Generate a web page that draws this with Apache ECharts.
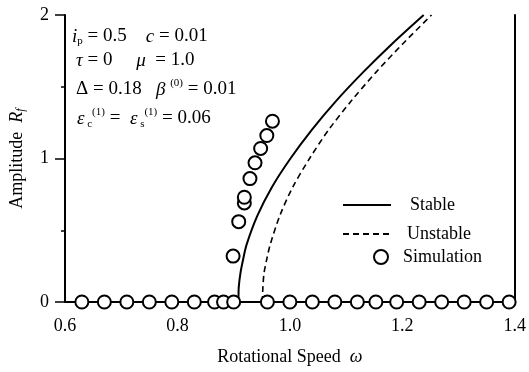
<!DOCTYPE html>
<html>
<head>
<meta charset="utf-8">
<script src="https://cdn.jsdelivr.net/npm/echarts@6/dist/echarts.min.js"></script>
<style>
html, body { margin: 0; padding: 0; background: #fff; }
#chart { width: 529px; height: 372px; }
</style>
</head>
<body>
<div id="chart"></div>
<script>
// 稳定解 (上支)
var stableOmega = [0.908, 0.909, 0.912, 0.917, 0.923, 0.942, 0.968, 1.001, 1.039, 1.082, 1.130, 1.182, 1.238];
var stableAmp = [0, 0.1, 0.2, 0.3, 0.4, 0.6, 0.8, 1.0, 1.2, 1.4, 1.6, 1.8, 2.0];
// 不稳定解 (上支)
var unstableOmega = [0.951, 0.952, 0.954, 0.959, 0.965, 0.982, 1.005, 1.035, 1.069, 1.109, 1.153, 1.201, 1.252];
var unstableAmp = [0, 0.1, 0.2, 0.3, 0.4, 0.6, 0.8, 1.0, 1.2, 1.4, 1.6, 1.8, 2.0];
// 零解: 稳定区间 / 不稳定区间
var zeroStableLeft = [0.6, 0.908];
var zeroStableRight = [0.951, 1.4];
var zeroUnstable = [0.908, 0.951];
// 数值模拟
var simOmega = [0.63, 0.67, 0.71, 0.75, 0.79, 0.83, 0.866, 0.882, 0.90, 0.96, 1.00, 1.04, 1.08, 1.12, 1.153, 1.19, 1.23, 1.27, 1.31, 1.35, 1.39,
	0.899, 0.909, 0.919, 0.919, 0.929, 0.938, 0.948, 0.959, 0.969];
var simAmp = [0, 0, 0, 0, 0, 0, 0, 0, 0, 0, 0, 0, 0, 0, 0, 0, 0, 0, 0, 0, 0,
	0.32, 0.56, 0.69, 0.73, 0.86, 0.97, 1.07, 1.16, 1.26];
var xTicks = [0.6, 1.4, 0.2];
var yTicks = [0, 2, 1];

function zip(xs, ys) {
	var out = [];
	for (var i = 0; i < xs.length; i++) out.push([xs[i], ys[i]]);
	return out;
}

var serif = 'Liberation Serif';
var stableData = zip(zeroStableLeft, [0, 0]).concat(zip(stableOmega, stableAmp));
var stableData2 = zip(zeroStableRight, [0, 0]);
var noDot = { color: 'rgba(0,0,0,0)', borderWidth: 0 };

var chart = echarts.init(document.getElementById('chart'));
var option = {
	animation: false,
	textStyle: { fontFamily: serif, color: '#000' },
	grid: { left: 62, right: 12, top: 15, bottom: 70 },
	xAxis: [{
		type: 'value',
		min: xTicks[0], max: xTicks[1], interval: xTicks[2],
		axisLine: { show: false },
		axisTick: { show: false },
		splitLine: { show: false },
		axisLabel: { fontSize: 18, color: '#000', fontFamily: serif, margin: 15, formatter: function(v) { return v.toFixed(1); } },
		name: 'Rotational Speed  {w|ω}',
		nameLocation: 'middle',
		nameGap: 46,
		nameTextStyle: { fontSize: 18, color: '#000', fontFamily: serif, rich: { w: { fontSize: 18, fontStyle: 'italic', fontFamily: serif } } }
	}, {
		type: 'value', position: 'top',
		min: xTicks[0], max: xTicks[1],
		axisLine: { show: true, lineStyle: { color: '#000', width: 2 } },
		axisTick: { show: false }, axisLabel: { show: false }, splitLine: { show: false }
	}],
	yAxis: [{
		type: 'value',
		min: yTicks[0], max: yTicks[1], interval: yTicks[2],
		axisLine: { show: true, lineStyle: { color: '#000', width: 2 } },
		axisTick: { show: true, length: 10, lineStyle: { color: '#000', width: 1.5 } },
		minorTick: { show: true, splitNumber: 2, length: 4, lineStyle: { color: '#000', width: 1.5 } },
		splitLine: { show: false },
		axisLabel: { fontSize: 18, color: '#000', fontFamily: serif, margin: 16 },
		name: 'Amplitude  {r|R}{f|f}',
		nameLocation: 'middle',
		nameGap: 38,
		nameTextStyle: { fontSize: 18, color: '#000', fontFamily: serif, rich: {
			r: { fontSize: 18, fontStyle: 'italic', fontFamily: serif },
			f: { fontSize: 12, fontStyle: 'italic', fontFamily: serif, verticalAlign: 'bottom', padding: [8, 0, 0, 0] }
		} }
	}, {
		type: 'value', position: 'right',
		min: yTicks[0], max: yTicks[1],
		axisLine: { show: true, lineStyle: { color: '#000', width: 2 } },
		axisTick: { show: false }, axisLabel: { show: false }, splitLine: { show: false }
	}],
	legend: [{
		data: ['Stable'], left: 342, top: 196, padding: 0, itemWidth: 48, itemHeight: 14, itemStyle: noDot,
		textStyle: { fontSize: 18, fontFamily: serif, color: '#000', padding: [0, 0, 0, 14] }
	}, {
		data: ['Unstable'], left: 342, top: 225, padding: 0, itemWidth: 48, itemHeight: 14, itemStyle: noDot,
		textStyle: { fontSize: 18, fontFamily: serif, color: '#000', padding: [0, 0, 0, 11] }
	}, {
		data: ['Simulation'], left: 373, top: 248, padding: 0, itemWidth: 14, itemHeight: 14,
		textStyle: { fontSize: 18, fontFamily: serif, color: '#000', padding: [0, 0, 0, 10] }
	}],
	series: [{
		name: 'Stable', type: 'line', data: stableData, symbol: 'none', smooth: 0.3, clip: false,
		itemStyle: { color: '#000' }, lineStyle: { color: '#000', width: 2 }
	}, {
		name: 'Stable', type: 'line', data: stableData2, symbol: 'none', clip: false,
		itemStyle: { color: '#000' }, lineStyle: { color: '#000', width: 2 }
	}, {
		name: 'Unstable', type: 'line', data: zip(unstableOmega, unstableAmp), symbol: 'none', smooth: 0.3, clip: false,
		itemStyle: { color: '#000' }, lineStyle: { color: '#000', width: 1.6, type: [6, 4] }
	}, {
		name: 'Unstable', type: 'line', data: zip(zeroUnstable, [0, 0]), symbol: 'none', clip: false,
		itemStyle: { color: '#000' }, lineStyle: { color: '#000', width: 2, type: [3, 5] }
	}, {
		name: 'Simulation', type: 'scatter', data: zip(simOmega, simAmp), symbol: 'circle', symbolSize: 13, clip: false, z: 5,
		itemStyle: { color: '#fff', borderColor: '#000', borderWidth: 2, opacity: 1 }
	}],
	graphic: [{
		type: 'text', left: 72, top: 27,
		style: { text: '{i|i}{sb|p} = 0.5    {i|c} = 0.01', fontSize: 19, fontFamily: serif, fill: '#000',
			rich: { i: { fontSize: 19, fontStyle: 'italic', fontFamily: serif }, sb: { fontSize: 11, fontFamily: serif, verticalAlign: 'bottom', padding: [10, 0, 0, 0] } } }
	}, {
		type: 'text', left: 76, top: 51,
		style: { text: '{i|τ} = 0     {i|μ}  = 1.0', fontSize: 19, fontFamily: serif, fill: '#000',
			rich: { i: { fontSize: 19, fontStyle: 'italic', fontFamily: serif } } }
	}, {
		type: 'text', left: 76, top: 78,
		style: { text: 'Δ = 0.18   {i|β} {sp|(0)} = 0.01', fontSize: 19, fontFamily: serif, fill: '#000',
			rich: { i: { fontSize: 19, fontStyle: 'italic', fontFamily: serif }, sp: { fontSize: 11, fontFamily: serif, verticalAlign: 'top', padding: [0, 0, 12, 0] } } }
	}, {
		type: 'text', left: 77, top: 107,
		style: { text: '{i|ε}{sb| c}{sp|(1)} =  {i|ε}{sb| s}{sp|(1)} = 0.06', fontSize: 19, fontFamily: serif, fill: '#000',
			rich: {
				i: { fontSize: 19, fontStyle: 'italic', fontFamily: serif },
				sb: { fontSize: 11, fontFamily: serif, verticalAlign: 'bottom', padding: [10, 0, 0, 0] },
				sp: { fontSize: 11, fontFamily: serif, verticalAlign: 'top', padding: [0, 0, 12, 0] }
			} }
	}]
};
chart.setOption(option);
</script>
</body>
</html>
